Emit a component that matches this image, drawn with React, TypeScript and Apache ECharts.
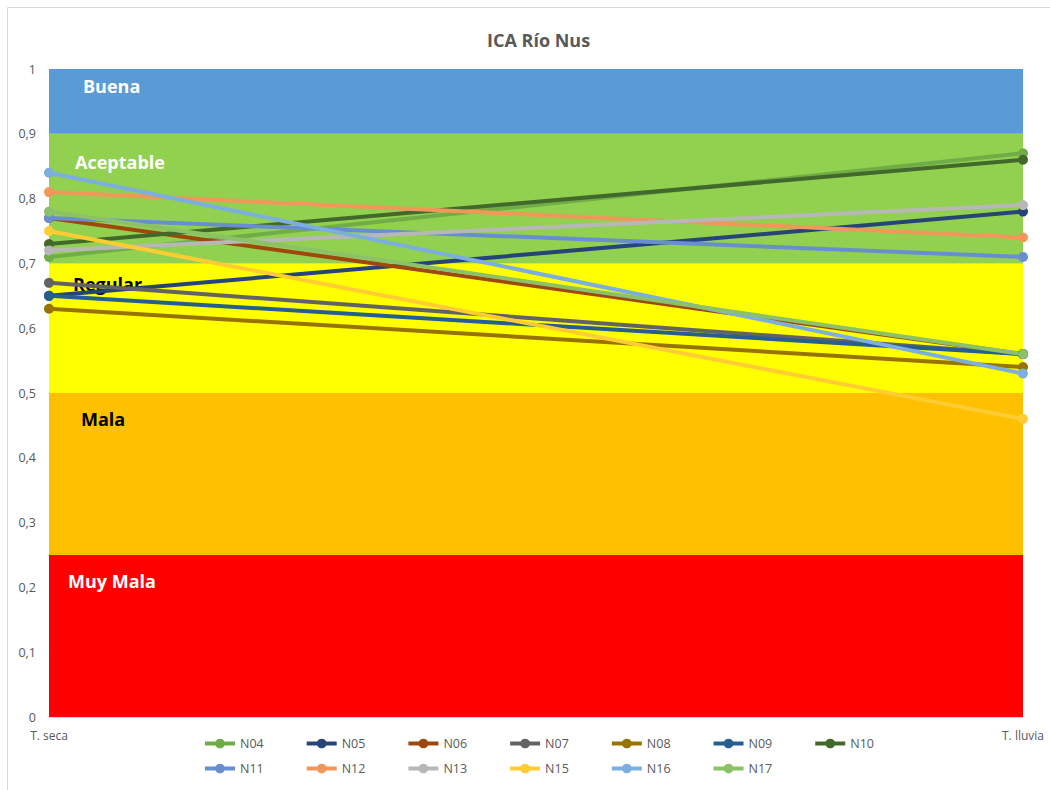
import React, { useEffect, useRef } from "react";
import * as echarts from "echarts";

const categories = ["T. seca", "T. lluvia"];
const seriesNames = ["N04", "N05", "N06", "N07", "N08", "N09", "N10", "N11", "N12", "N13", "N15", "N16", "N17"];
const seriesColors = ["#70ad47", "#264478", "#9e480e", "#636363", "#997300", "#255e91", "#43682b", "#698ed0", "#f1975a", "#b7b7b7", "#ffcd33", "#7cafdd", "#8cc168"];
const seriesValues = [
  [0.71, 0.87],
  [0.65, 0.78],
  [0.77, 0.56],
  [0.67, 0.56],
  [0.63, 0.54],
  [0.65, 0.56],
  [0.73, 0.86],
  [0.77, 0.71],
  [0.81, 0.74],
  [0.72, 0.79],
  [0.75, 0.46],
  [0.84, 0.53],
  [0.78, 0.56],
];
const bandNames = ["Muy Mala", "Mala", "Regular", "Aceptable", "Buena"];
const bandLimits = [0, 0.25, 0.5, 0.7, 0.9, 1];
const bandColors = ["#ff0000", "#ffc000", "#ffff00", "#92d050", "#5b9bd5"];
const bandTextColors = ["#ffffff", "#000000", "#000000", "#ffffff", "#ffffff"];
const bandLabelOffsets = [[19, 17], [32, 17], [24, 12], [26, 19], [34, 8]];

export default function App() {
  const ref = useRef<HTMLDivElement>(null);
  useEffect(() => {
    if (!ref.current) return;
    const chart = echarts.init(ref.current, null, { renderer: "svg" });
    const font = "'Open Sans', sans-serif";
    const markData = bandNames.map((name, i) => [
      {
        name,
        yAxis: bandLimits[i],
        itemStyle: { color: bandColors[i], opacity: 1 },
        label: {
          show: true,
          position: "insideTopLeft",
          distance: 0,
          offset: bandLabelOffsets[i],
          color: bandTextColors[i],
          fontSize: 18,
          fontWeight: "bold",
          fontFamily: font,
        },
      },
      { yAxis: bandLimits[i + 1] },
    ]);
    const series: any[] = seriesNames.map((name, i) => ({
      name,
      type: "line",
      data: seriesValues[i],
      symbol: "circle",
      symbolSize: 10,
      lineStyle: { width: 4, color: seriesColors[i] },
      itemStyle: { color: seriesColors[i] },
      z: 3,
    }));
    series[0].markArea = { silent: true, z: 1, data: markData };
    const legendText = { color: "#595959", fontSize: 12.5, fontFamily: font };
    const legendCommon = {
      left: 198,
      itemWidth: 30,
      itemHeight: 12,
      itemGap: 41,
      textStyle: legendText,
      lineStyle: { width: 4 },
    };
    chart.setOption({
      animation: false,
      backgroundColor: "#ffffff",
      title: {
        text: "ICA Río Nus",
        left: 482,
        top: 26,
        textStyle: { color: "#595959", fontSize: 18, fontWeight: "bold", fontFamily: font },
      },
      graphic: [
        {
          type: "rect",
          shape: { x: 7.5, y: 7.5, width: 1060, height: 800 },
          style: { fill: "none", stroke: "#d9d9d9", lineWidth: 1 },
          silent: true,
        },
      ],
      grid: { left: 49, right: 27, top: 69, bottom: 73 },
      xAxis: {
        type: "category",
        data: categories,
        boundaryGap: false,
        axisLine: { lineStyle: { color: "#d9d9d9" } },
        axisTick: { show: false },
        axisLabel: { color: "#595959", fontSize: 12, fontFamily: font, margin: 12 },
        splitLine: { show: false },
      },
      yAxis: {
        type: "value",
        min: 0,
        max: 1,
        interval: 0.1,
        axisLine: { show: false },
        axisTick: { show: false },
        splitLine: { show: false },
        axisLabel: {
          color: "#595959",
          fontSize: 12.5,
          fontFamily: font,
          margin: 13,
          formatter: (v: number) => String(Math.round(v * 10) / 10).replace(".", ","),
        },
      },
      legend: [
        { ...legendCommon, data: seriesNames.slice(0, 7), top: 732 },
        { ...legendCommon, data: seriesNames.slice(7), top: 757 },
      ],
      series,
    });
    return () => chart.dispose();
  }, []);
  return (
    <div
      ref={ref}
      style={{ position: "absolute", left: 0, top: 0, width: 1050, height: 790 }}
    />
  );
}
